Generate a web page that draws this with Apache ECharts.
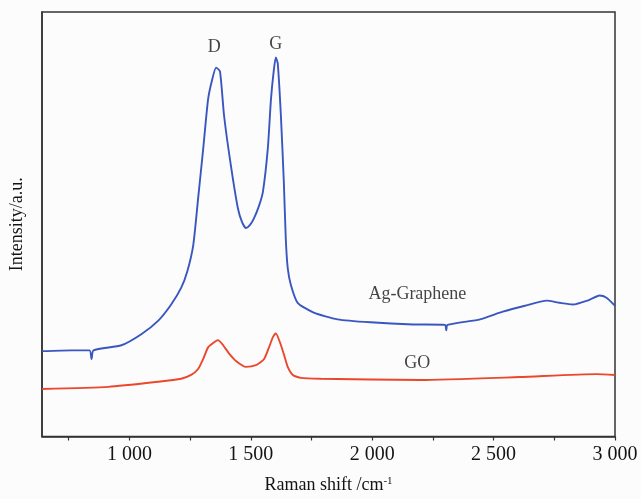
<!DOCTYPE html>
<html>
<head>
<meta charset="utf-8">
<script src="https://cdn.jsdelivr.net/npm/echarts@6/dist/echarts.min.js"></script>
<style>
  html, body { margin: 0; padding: 0; background: #fcfcfc; }
  #main { width: 641px; height: 499px; }
</style>
</head>
<body>
<div id="main"></div>
<script>
// Raman shift (cm-1) and intensity (a.u., 0-100 scale)
var agShift = [640, 762, 836, 844, 852, 967, 1049, 1119, 1172, 1213, 1238, 1263, 1283, 1304, 1324, 1341, 1357, 1373, 1390, 1418, 1447, 1464, 1480, 1496, 1513, 1533, 1550, 1570, 1583, 1595, 1603, 1611, 1624, 1636, 1644, 1652, 1665, 1693, 1759, 1857, 1993, 2169, 2300, 2305, 2310, 2444, 2538, 2629, 2719, 2772, 2826, 2895, 2936, 2965, 3000];
var agInt = [20.1, 20.3, 20.3, 18.2, 20.3, 21.5, 24.1, 27.3, 31.1, 35.0, 38.8, 45.1, 56.1, 67.8, 79.4, 84.1, 86.9, 86.0, 75.5, 63.8, 53.7, 50.5, 49.1, 49.8, 51.4, 54.2, 57.7, 67.8, 79.4, 86.4, 89.3, 87.9, 75.5, 60.0, 46.7, 39.7, 35.7, 31.5, 29.2, 27.6, 26.9, 26.4, 26.3, 25.0, 26.3, 27.6, 29.4, 30.8, 32.0, 31.5, 31.1, 32.2, 33.2, 32.7, 30.8];

var goShift = [640, 914, 1119, 1213, 1254, 1283, 1305, 1324, 1349, 1365, 1386, 1410, 1439, 1480, 1521, 1554, 1575, 1591, 1603, 1620, 1636, 1652, 1673, 1706, 1788, 2198, 2608, 2924, 3000];
var goInt = [11.2, 11.7, 12.9, 13.6, 14.5, 15.9, 18.4, 21.0, 22.2, 22.7, 21.5, 19.6, 17.8, 16.4, 16.8, 18.2, 21.0, 23.4, 24.3, 22.2, 19.4, 16.4, 14.5, 13.8, 13.6, 13.3, 14.0, 14.7, 14.5];

var tickValues = [750, 1000, 1250, 1500, 1750, 2000, 2250, 2500, 2750, 3000];
var labelValues = [1000, 1500, 2000, 2500, 3000];

var noteText = ['D', 'G', 'Ag-Graphene', 'GO'];
var noteX = [1349, 1603, 2186, 2186];
var noteY = [91.6, 92.3, 33.4, 17.3];

function pairs(xs, ys) {
  return xs.map(function (x, i) { return [x, ys[i]]; });
}

var serif = '"Liberation Serif", "DejaVu Serif", serif';
var ink = '#141414';

var chart = echarts.init(document.getElementById('main'));
chart.setOption({
  backgroundColor: '#fcfcfc',
  animation: false,
  grid: {
    left: 41, right: 26, top: 12, bottom: 59,
    show: true,
    borderColor: '#333',
    borderWidth: 1.5,
    backgroundColor: 'transparent'
  },
  xAxis: {
    type: 'value',
    min: 640,
    max: 3000,
    splitLine: { show: false },
    axisLine: { lineStyle: { color: '#333', width: 1.5 } },
    axisTick: {
      customValues: tickValues,
      length: 4,
      lineStyle: { color: '#333', width: 1.2 }
    },
    axisLabel: {
      customValues: labelValues,
      color: ink,
      fontFamily: serif,
      fontSize: 20,
      margin: 8,
      formatter: function (v) {
        var k = Math.floor(v / 1000);
        var r = String(v % 1000);
        while (r.length < 3) r = '0' + r;
        return k + ' ' + r;
      }
    },
    name: '{a|Raman shift /cm}{s|-1}',
    nameLocation: 'middle',
    nameGap: 39,
    nameTextStyle: {
      rich: {
        a: { fontFamily: serif, fontSize: 18, color: ink },
        s: { fontFamily: serif, fontSize: 11, color: ink, verticalAlign: 'top', padding: [0, 0, 8, 0] }
      }
    }
  },
  yAxis: {
    type: 'value',
    min: 0,
    max: 100,
    splitLine: { show: false },
    axisTick: { show: false },
    axisLabel: { show: false },
    axisLine: { show: true, lineStyle: { color: '#333', width: 1.5 } },
    name: 'Intensity/a.u.',
    nameLocation: 'middle',
    nameGap: 16,
    nameTextStyle: { fontFamily: serif, fontSize: 18, color: ink }
  },
  series: [
    {
      name: 'Ag-Graphene',
      type: 'line',
      showSymbol: false,
      symbol: 'none',
      smooth: 0.2,
      data: pairs(agShift, agInt),
      lineStyle: { color: '#3a56c0', width: 1.9 }
    },
    {
      name: 'GO',
      type: 'line',
      showSymbol: false,
      symbol: 'none',
      smooth: 0.2,
      data: pairs(goShift, goInt),
      lineStyle: { color: '#ec472c', width: 1.9 }
    },
    {
      name: 'notes',
      type: 'scatter',
      symbolSize: 0,
      silent: true,
      data: noteText.map(function (t, i) { return { name: t, value: [noteX[i], noteY[i]] }; }),
      label: {
        show: true,
        position: 'inside',
        formatter: '{b}',
        fontFamily: serif,
        fontSize: 18,
        color: ink
      }
    }
  ]
});
</script>
</body>
</html>
